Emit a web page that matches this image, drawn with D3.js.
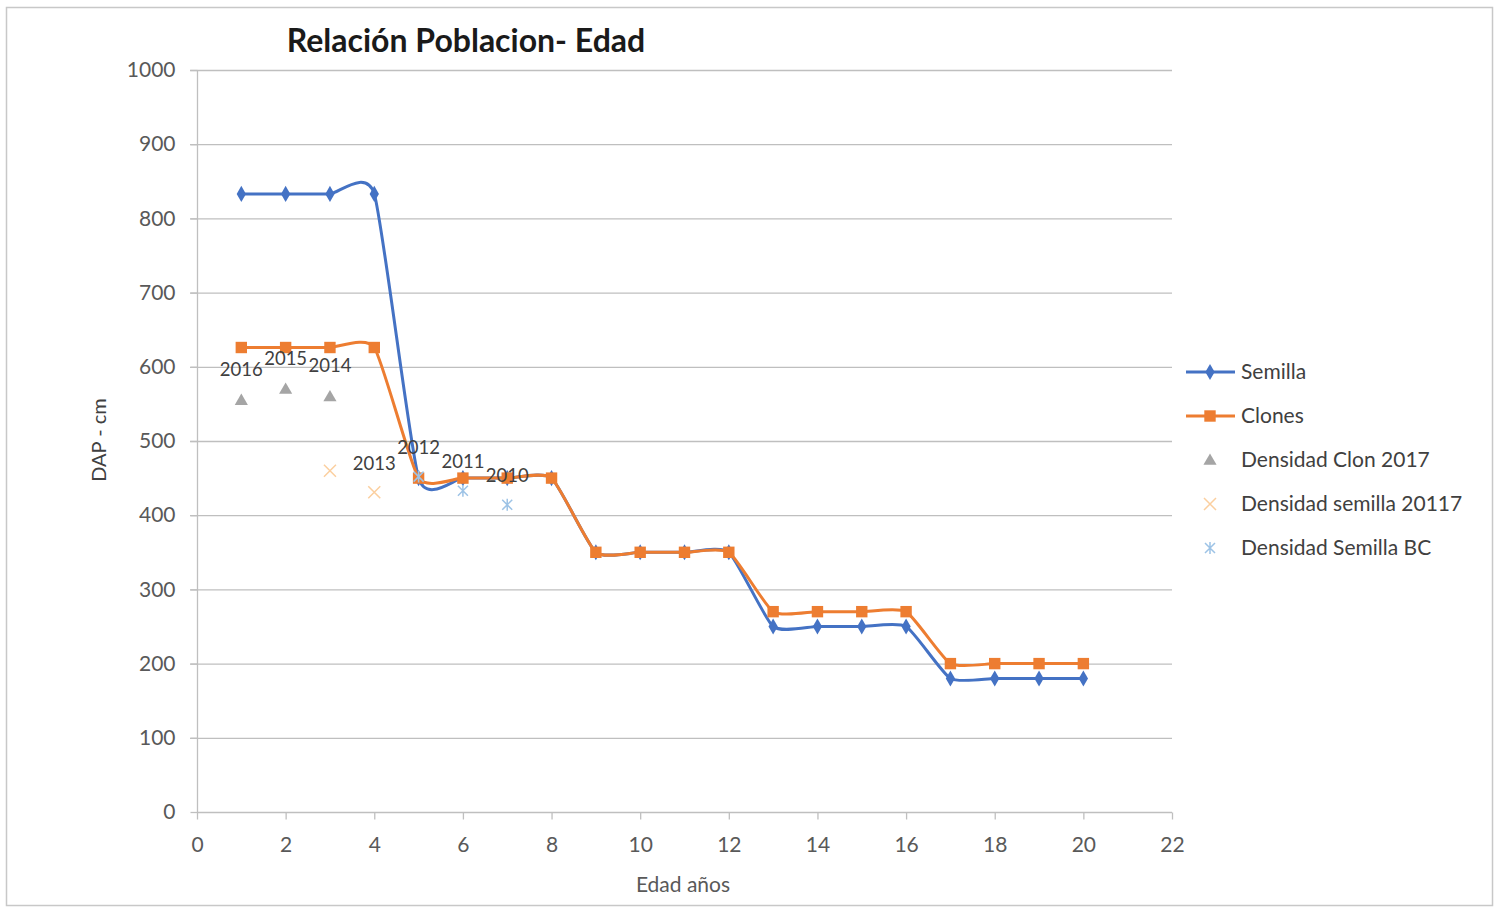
<!DOCTYPE html>
<html><head><meta charset="utf-8">
<script src="https://cdn.jsdelivr.net/npm/d3@7"></script>
<style>body{margin:0;background:#fff}svg{display:block}text{font-family:Lato,"Open Sans",sans-serif}</style>
</head><body><svg id="c" width="1502" height="909"></svg>
<script>
const ages = [1,2,3,4,5,6,7,8,9,10,11,12,13,14,15,16,17,18,19,20];
const semilla = [833,833,833,833,450,450,450,450,350,350,350,350,250,250,250,250,180,180,180,180];
const clones = [626,626,626,626,450,450,450,450,350,350,350,350,270,270,270,270,200,200,200,200];
const clonX = [1,2,3];
const clonY = [555,570,560];
const clonLabels = ["2016","2015","2014"];
const sem17X = [3,4];
const sem17Y = [460,431];
const sem17Labels = ["","2013"];
const bcX = [5,6,7];
const bcY = [452,433,414];
const bcLabels = ["2012","2011","2010"];
const xTicks = [0,2,4,6,8,10,12,14,16,18,20,22];
const yTicks = [0,100,200,300,400,500,600,700,800,900,1000];
const legendNames = ["Semilla","Clones","Densidad Clon 2017","Densidad semilla 20117","Densidad Semilla BC"];

const svg = d3.select("#c");
svg.append("rect").attr("x",6.5).attr("y",7.5).attr("width",1486).attr("height",898)
  .attr("fill","#fff").attr("stroke","#c8c8c8").attr("stroke-width",1.5);

const x = d3.scaleLinear().domain([0,22]).range([197,1172]);
const y = d3.scaleLinear().domain([0,1000]).range([812,70]);

// gridlines
svg.append("g").selectAll("line").data(yTicks.filter(d=>d>0)).join("line")
  .attr("x1",190).attr("x2",1172).attr("y1",d=>y(d)+0.5).attr("y2",d=>y(d)+0.5)
  .attr("stroke","#bfbfbf").attr("stroke-width",1.3);

// y axis
const ya = svg.append("g").attr("transform","translate(197.5,0)")
  .call(d3.axisLeft(y).tickValues(yTicks).tickSize(7).tickPadding(15).tickFormat(d3.format("d")));
ya.select(".domain").attr("stroke","#bfbfbf").attr("stroke-width",1.3).attr("d","M0,"+y(0)+"V"+y(1000));
ya.selectAll(".tick line").attr("stroke","#bfbfbf").attr("stroke-width",1.3);
ya.selectAll("text").attr("fill","#595959").style("font-size","21px");

// x axis
const xa = svg.append("g").attr("transform","translate(0,"+(y(0)+0.5)+")")
  .call(d3.axisBottom(x).tickValues(xTicks).tickSize(7).tickPadding(18).tickFormat(d3.format("d")));
xa.select(".domain").attr("stroke","#bfbfbf").attr("stroke-width",1.3).attr("d","M"+x(0)+",0H"+x(22));
xa.selectAll(".tick line").attr("stroke","#bfbfbf").attr("stroke-width",1.3);
xa.selectAll("text").attr("fill","#595959").style("font-size","21px");

// titles
svg.append("text").attr("x",466).attr("y",52).attr("text-anchor","middle")
  .style("font-size","32px").style("font-weight","bold").attr("fill","#1a1a1a").text("Relación Poblacion- Edad");
svg.append("text").attr("x",683).attr("y",892).attr("text-anchor","middle")
  .style("font-size","21px").attr("fill","#595959").text("Edad años");
svg.append("text").attr("transform","translate(106,440) rotate(-90)").attr("text-anchor","middle")
  .style("font-size","20px").attr("fill","#404040").text("DAP - cm");

const line = d3.line().x(d=>x(d[0])).y(d=>y(d[1])).curve(d3.curveCardinal.tension(0.45));
const blue = "#4472c4", orange = "#ed7d31";

const semPts = ages.map((a,i)=>[a,semilla[i]]);
const cloPts = ages.map((a,i)=>[a,clones[i]]);

svg.append("path").datum(semPts).attr("d",line).attr("fill","none").attr("stroke",blue).attr("stroke-width",3);
svg.append("path").datum(cloPts).attr("d",line).attr("fill","none").attr("stroke",orange).attr("stroke-width",3);

const diamond = d3.symbol().type(d3.symbolDiamond).size(75);
const square = d3.symbol().type(d3.symbolSquare).size(130);
const tri = d3.symbol().type(d3.symbolTriangle).size(75);

svg.append("g").selectAll("path").data(semPts).join("path")
  .attr("transform",d=>`translate(${x(d[0])},${y(d[1])})`).attr("d",diamond).attr("fill",blue);
svg.append("g").selectAll("path").data(cloPts).join("path")
  .attr("transform",d=>`translate(${x(d[0])},${y(d[1])})`).attr("d",square).attr("fill",orange);

// Densidad Clon 2017
svg.append("g").selectAll("path").data(clonX).join("path")
  .attr("transform",(d,i)=>`translate(${x(d)},${y(clonY[i])+1})`).attr("d",tri).attr("fill","#a5a5a5");
function xMark(g, cx, cy, s, col){
  g.append("path").attr("d",`M${cx-s},${cy-s}L${cx+s},${cy+s}M${cx-s},${cy+s}L${cx+s},${cy-s}`)
   .attr("stroke",col).attr("stroke-width",1.5).attr("fill","none");
}
function star(g, cx, cy, s, col){
  g.append("path").attr("d",`M${cx-s},${cy-s}L${cx+s},${cy+s}M${cx-s},${cy+s}L${cx+s},${cy-s}M${cx},${cy-s-1}L${cx},${cy+s+1}`)
   .attr("stroke",col).attr("stroke-width",1.5).attr("fill","none");
}
const gm = svg.append("g");
sem17X.forEach((d,i)=>xMark(gm,x(d),y(sem17Y[i]),6,"#fbcf9f"));
bcX.forEach((d,i)=>star(gm,x(d),y(bcY[i]),5,"#9dc3e6"));

// data labels
const lab = svg.append("g").style("font-size","18.5px").attr("fill","#404040").attr("text-anchor","middle");
clonX.forEach((d,i)=>lab.append("text").attr("x",x(d)).attr("y",y(clonY[i])-24).text(clonLabels[i]));
sem17X.forEach((d,i)=>lab.append("text").attr("x",x(d)).attr("y",y(sem17Y[i])-22).text(sem17Labels[i]));
bcX.forEach((d,i)=>lab.append("text").attr("x",x(d)).attr("y",y(bcY[i])-23).text(bcLabels[i]));

// legend
const lg = svg.append("g");
const ly = [372,416,460,504,548];
legendNames.forEach((n,i)=>{
  const cy = ly[i];
  if(i<2){
    lg.append("line").attr("x1",1186).attr("x2",1235).attr("y1",cy).attr("y2",cy)
      .attr("stroke",i==0?blue:orange).attr("stroke-width",3);
    lg.append("path").attr("transform",`translate(1210,${cy})`).attr("d",i==0?diamond:square).attr("fill",i==0?blue:orange);
  } else if(i==2){
    lg.append("path").attr("transform",`translate(1210,${cy+1})`).attr("d",tri).attr("fill","#a5a5a5");
  } else if(i==3){
    xMark(lg,1210,cy,6,"#fbcf9f");
  } else {
    star(lg,1210,cy,5,"#9dc3e6");
  }
  lg.append("text").attr("x",1241).attr("y",cy+7).style("font-size","21px").attr("fill","#404040").text(n);
});
</script></body></html>
